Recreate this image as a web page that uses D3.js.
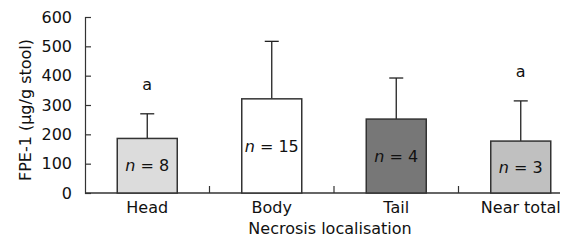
<!DOCTYPE html>
<html>
<head>
<meta charset="utf-8">
<script src="https://cdn.jsdelivr.net/npm/d3@7"></script>
<style>
  body { margin: 0; background: #fff; }
  svg text { font-family: "DejaVu Sans", sans-serif; fill: #111; }
</style>
</head>
<body>
<div id="chart"></div>
<script>
// values
const categories = ['Head', 'Body', 'Tail', 'Near total'];
const means = [186, 321, 252, 177];
const errTops = [270, 517, 392, 314];
const nCounts = [8, 15, 4, 3];
const sigMarks = ['a', '', '', 'a'];
const fills = ['#dcdcdc', '#ffffff', '#777777', '#c0c0c0'];
const yTicks = [0, 100, 200, 300, 400, 500, 600];

let margin = { top: 17, left: 85, right: 10, bottom: 47 },
  width = 570 - margin.left - margin.right,
  height = 240 - margin.top - margin.bottom;

let svg = d3.select('#chart')
  .append('svg')
    .attr('width', 570)
    .attr('height', 240);

let g = svg.append('g')
  .attr('transform', 'translate(' + margin.left + ',' + margin.top + ')');

let xScale = d3.scaleBand()
  .domain(categories)
  .range([0, 498])
  .paddingInner(0)
  .paddingOuter(0);

let yScale = d3.scaleLinear()
  .domain([0, 600])
  .range([height, 0]);

const barW = 60;

// Y axis, ticks pointing inward
let yAxis = g.append('g')
  .call(d3.axisLeft(yScale).tickValues(yTicks).tickSize(-6).tickPadding(13));
yAxis.select('.domain').attr('stroke', '#333').attr('stroke-width', 1.2);
yAxis.selectAll('.tick line').attr('stroke', '#333').attr('stroke-width', 1.2);
yAxis.selectAll('text').style('font-size', '16px').attr('fill', '#111');

// X axis line and separator ticks
g.append('line')
  .attr('x1', 0).attr('x2', width)
  .attr('y1', height).attr('y2', height)
  .attr('stroke', '#333').attr('stroke-width', 1.5);

g.selectAll('.sep')
  .data(categories.slice(1))
  .enter().append('line')
    .attr('x1', d => xScale(d)).attr('x2', d => xScale(d))
    .attr('y1', height).attr('y2', height - 7)
    .attr('stroke', '#333').attr('stroke-width', 1.2);

// error bars (drawn first so bars cover the stem)
const errs = g.selectAll('.err')
  .data(categories)
  .enter().append('g');

errs.append('line')
  .attr('x1', d => xScale(d) + xScale.bandwidth() / 2)
  .attr('x2', d => xScale(d) + xScale.bandwidth() / 2)
  .attr('y1', (d, i) => yScale(means[i]))
  .attr('y2', (d, i) => yScale(errTops[i]))
  .attr('stroke', '#222').attr('stroke-width', 1.3);

errs.append('line')
  .attr('x1', d => xScale(d) + xScale.bandwidth() / 2 - 7)
  .attr('x2', d => xScale(d) + xScale.bandwidth() / 2 + 7)
  .attr('y1', (d, i) => yScale(errTops[i]))
  .attr('y2', (d, i) => yScale(errTops[i]))
  .attr('stroke', '#222').attr('stroke-width', 1.3);

// bars
g.selectAll('.bar')
  .data(categories)
  .enter().append('rect')
    .attr('x', d => xScale(d) + xScale.bandwidth() / 2 - barW / 2)
    .attr('width', barW)
    .attr('y', (d, i) => yScale(means[i]))
    .attr('height', (d, i) => height - yScale(means[i]))
    .attr('fill', (d, i) => fills[i])
    .attr('stroke', '#333')
    .attr('stroke-width', 1.5);

// n = labels in the middle of each bar
let nLab = g.selectAll('.nlab')
  .data(categories)
  .enter().append('text')
    .attr('x', d => xScale(d) + xScale.bandwidth() / 2)
    .attr('y', (d, i) => yScale(means[i] / 2))
    .attr('dy', '0.36em')
    .attr('text-anchor', 'middle')
    .style('font-size', '16px');
nLab.append('tspan').style('font-style', 'italic').text('n');
nLab.append('tspan').text((d, i) => ' = ' + nCounts[i]);

// significance marks
g.selectAll('.sig')
  .data(categories)
  .enter().append('text')
    .attr('x', d => xScale(d) + xScale.bandwidth() / 2)
    .attr('y', (d, i) => yScale(errTops[i]) - 30)
    .attr('dy', '0.36em')
    .attr('text-anchor', 'middle')
    .style('font-size', '16px')
    .text((d, i) => sigMarks[i]);

// category labels
g.selectAll('.cat')
  .data(categories)
  .enter().append('text')
    .attr('x', d => xScale(d) + xScale.bandwidth() / 2)
    .attr('y', height + 20)
    .attr('text-anchor', 'middle')
    .style('font-size', '16px')
    .text(d => d);

// axis titles
svg.append('text')
  .attr('x', 330)
  .attr('y', 234)
  .attr('text-anchor', 'middle')
  .style('font-size', '16px')
  .text('Necrosis localisation');

svg.append('text')
  .attr('transform', 'translate(31,110) rotate(-90)')
  .attr('text-anchor', 'middle')
  .style('font-size', '16px')
  .text('FPE-1 (\u00b5g/g stool)');
</script>
</body>
</html>
